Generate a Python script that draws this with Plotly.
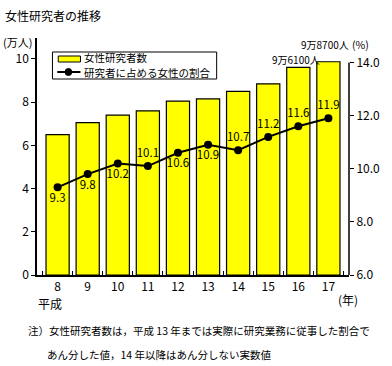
import plotly.graph_objects as go

years = ["8", "9", "10", "11", "12", "13", "14", "15", "16", "17"]
researchers = [6.5, 7.05, 7.4, 7.6, 8.05, 8.15, 8.5, 8.85, 9.61, 9.87]  # 万人
share = [9.3, 9.8, 10.2, 10.1, 10.6, 10.9, 10.7, 11.2, 11.6, 11.9]  # %
share_pos = ["bottom center", "bottom center", "bottom center", "top center",
             "bottom center", "bottom center", "top center", "top center",
             "top center", "top center"]

FONT = "Noto Sans CJK JP"
W, H = 392, 366
L, R, T, B = 37, 32, 38, 91
PW, PH = W - L - R, H - T - B


def px(x):
    return (x - L) / PW


def py(y):
    return (H - B - y) / PH


fig = go.Figure()
fig.add_trace(go.Bar(
    x=years, y=researchers, marker=dict(color="#FFFF00", line=dict(color="black", width=1.2)),
    width=0.77, showlegend=False, hoverinfo="skip"))
fig.add_trace(go.Scatter(
    x=years, y=share, yaxis="y2", mode="lines+markers+text",
    line=dict(color="black", width=2), marker=dict(color="black", size=8),
    text=[f"{v:.1f}" for v in share], textposition=share_pos,
    textfont=dict(family=FONT, size=11.5, color="black"), showlegend=False, cliponaxis=False))

y2_top = 6 + PH / ((H - B - 62.5) / 8)

fig.update_layout(
    width=W, height=H, margin=dict(l=L, r=R, t=T, b=B),
    paper_bgcolor="white", plot_bgcolor="white",
    font=dict(family=FONT, size=12, color="black"),
    bargap=0.2,
    xaxis=dict(showline=True, linecolor="black", linewidth=1.5, ticks="inside", ticklen=4,
               tickson="boundaries", tickcolor="black", showgrid=False,
               tickfont=dict(family=FONT, size=12), mirror=False),
    yaxis=dict(range=[0, 10.97], tickvals=[0, 2, 4, 6, 8, 10], showline=True, linecolor="black",
               linewidth=1.5, ticks="outside", ticklen=4, tickcolor="black", showgrid=False,
               zeroline=False, tickfont=dict(family=FONT, size=12)),
    yaxis2=dict(range=[6, y2_top], tickvals=[6, 8, 10, 12, 14], tickformat=".1f",
                overlaying="y", side="right", showline=False, ticks="outside", ticklen=4,
                tickcolor="black", showgrid=False, zeroline=False,
                tickfont=dict(family=FONT, size=12)),
)

shapes = [
    dict(type="line", xref="paper", yref="y2", x0=1, x1=1, y0=6, y1=14,
         line=dict(color="black", width=1.5)),
    # legend box
    dict(type="rect", xref="paper", yref="paper", x0=px(53), x1=px(223), y0=py(79), y1=py(52),
         line=dict(color="black", width=1), fillcolor="white"),
    dict(type="rect", xref="paper", yref="paper", x0=px(59), x1=px(82), y0=py(62), y1=py(56),
         line=dict(color="black", width=1), fillcolor="#FFFF00"),
    dict(type="line", xref="paper", yref="paper", x0=px(58), x1=px(82), y0=py(72), y1=py(72),
         line=dict(color="black", width=2)),
    dict(type="circle", xref="paper", yref="paper", x0=px(66), x1=px(73), y0=py(75.5), y1=py(68.5),
         line=dict(color="black", width=1), fillcolor="black"),
]
fig.update_layout(shapes=shapes)

ann = [
    ("女性研究者の推移", 2, 15, "left", 12),
    ("女性研究者数", 84, 58, "left", 10.5),
    ("研究者に占める女性の割合", 84, 72.5, "left", 10.5),
    ("(万人)", 0, 42, "left", 11),
    ("9万8700人", 308, 44, "left", 10),
    ("(%)", 361, 45, "left", 10.5),
    ("9万6100人", 278, 59, "left", 10),
    ("平成", 36, 303, "left", 12),
    ("(年)", 347, 299, "left", 12),
    ("注）女性研究者数は，平成 13 年までは実際に研究業務に従事した割合で", 26, 330, "left", 10.5),
    ("あん分した値，14 年以降はあん分しない実数値", 45, 355, "left", 10.5),
]
annotations = []
for text, x, y, anchor, size in ann:
    annotations.append(dict(text=text, xref="paper", yref="paper", x=px(x), y=py(y),
                            xanchor=anchor, yanchor="middle", showarrow=False,
                            font=dict(family=FONT, size=size, color="black")))
fig.update_layout(annotations=annotations)

fig.write_html("out.html", config={"displayModeBar": False},
               post_script="document.body.style.margin='0';document.body.style.padding='0';")
